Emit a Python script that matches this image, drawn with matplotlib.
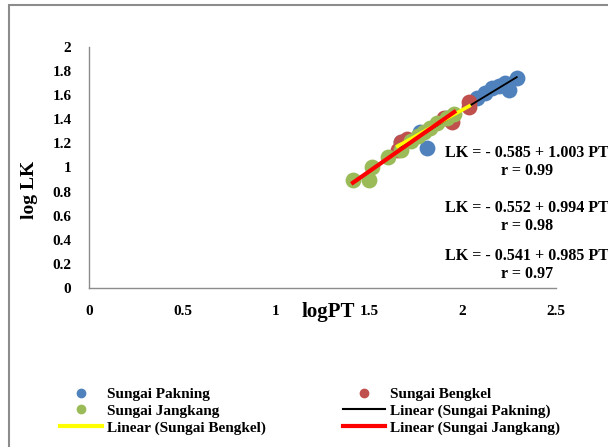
import numpy as np
import matplotlib
matplotlib.use("Agg")
import matplotlib.pyplot as plt
from matplotlib.lines import Line2D
from matplotlib.patches import Rectangle

plt.rcParams['font.family'] = ['Liberation Serif', 'DejaVu Serif']
plt.rcParams['font.weight'] = 'bold'

# data (log PT, log LK)
pak_x = [1.668, 1.769, 1.811, 1.918, 2.077, 2.120, 2.157, 2.194, 2.226, 2.247, 2.290]
pak_y = [1.212, 1.295, 1.162, 1.411, 1.577, 1.618, 1.660, 1.676, 1.701, 1.643, 1.743]

ben_x = [1.652, 1.668, 1.700, 1.902, 1.944, 2.035, 2.035]
ben_y = [1.145, 1.212, 1.240, 1.411, 1.378, 1.502, 1.544]

jan_x = [1.412, 1.497, 1.513, 1.598, 1.668, 1.721, 1.758, 1.795, 1.827, 1.864, 1.918, 1.955]
jan_y = [0.896, 0.896, 1.004, 1.087, 1.145, 1.220, 1.261, 1.295, 1.328, 1.369, 1.411, 1.444]

x_ticks = [0, 0.5, 1, 1.5, 2, 2.5]
x_tick_labels = ['0', '0.5', '1', '1.5', '2', '2.5']
y_ticks = [0, 0.2, 0.4, 0.6, 0.8, 1, 1.2, 1.4, 1.6, 1.8, 2]
y_tick_labels = ['0', '0.2', '0.4', '0.6', '0.8', '1', '1.2', '1.4', '1.6', '1.8', '2']

equations = ["LK = - 0.585 + 1.003 PT\nr = 0.99",
             "LK = - 0.552 + 0.994 PT\nr = 0.98",
             "LK = - 0.541 + 0.985 PT\nr = 0.97"]

c_blue = '#4F81BD'
c_red = '#C0504D'
c_green = '#9BBB59'

fig = plt.figure(figsize=(6.08, 4.47), dpi=100)
ax = fig.add_axes([0.1472, 0.3557, 0.7672, 0.5392])

ms = 130
ax.scatter(pak_x, pak_y, s=ms, color=c_blue, zorder=2, linewidths=0)
ax.scatter(ben_x, ben_y, s=ms, color=c_red, zorder=2, linewidths=0)
ax.scatter(jan_x, jan_y, s=ms, color=c_green, zorder=2, linewidths=0)

def trend(xs, ys):
    b, a = np.polyfit(xs, ys, 1)
    xx = np.array([min(xs), max(xs)])
    return xx, a + b * xx

tx, ty = trend(pak_x, pak_y)
ax.plot(tx, ty, color='black', lw=1.3, zorder=3)
tx, ty = trend(ben_x, ben_y)
ax.plot(tx, ty, color='#FFFF00', lw=2.6, zorder=4)
tx, ty = trend(jan_x, jan_y)
ax.plot(tx, ty, color='#FF0000', lw=3.0, zorder=5)

ax.set_xlim(0, 2.5)
ax.set_ylim(0, 2)
ax.set_xticks(x_ticks)
ax.set_xticklabels(x_tick_labels)
ax.set_yticks(y_ticks)
ax.set_yticklabels(y_tick_labels)
ax.tick_params(length=0, labelsize=11, pad=12)
ax.tick_params(axis='y', pad=13)
for lab in ax.get_xticklabels() + ax.get_yticklabels():
    lab.set_fontweight('bold')
for s in ['top', 'right']:
    ax.spines[s].set_visible(False)
for s in ['left', 'bottom']:
    ax.spines[s].set_color('#8c8c8c')
    ax.spines[s].set_linewidth(1.0)

fig.text(30 / 608, 1 - 190 / 447, 'log LK', rotation=90, ha='center', va='center',
         fontsize=14, fontweight='bold')
fig.text(328 / 608, 1 - 312 / 447, 'logPT', ha='center', va='center',
         fontsize=15, fontweight='bold')

eq_y = [162, 217, 265]
for e, yy in zip(equations, eq_y):
    fig.text(527 / 608, 1 - yy / 447, e, ha='center', va='center', fontsize=11.5,
             fontweight='bold', linespacing=1.15)

handles = [
    Line2D([], [], ls='none', marker='o', color=c_blue, markersize=6),
    Line2D([], [], ls='none', marker='o', color=c_green, markersize=6),
    Line2D([], [], color='#FFFF00', lw=3),
    Line2D([], [], ls='none', marker='o', color=c_red, markersize=6),
    Line2D([], [], color='black', lw=1.5),
    Line2D([], [], color='#FF0000', lw=3),
]
labels = ['Sungai Pakning', 'Sungai Jangkang', 'Linear (Sungai Bengkel)',
          'Sungai Bengkel', 'Linear (Sungai Pakning)', 'Linear (Sungai Jangkang)']
fig.legend(handles, labels, ncol=2, loc='center left', bbox_to_anchor=(60 / 608, 1 - 411 / 447),
           frameon=False, prop={'weight': 'bold', 'size': 11}, handlelength=2.75,
           handletextpad=0.3, columnspacing=5.1, labelspacing=0.2, borderpad=0,
           borderaxespad=0)

fig.add_artist(Rectangle((9 / 608, -0.05), 1.2, 1 - 5 / 447 + 0.05, transform=fig.transFigure,
                         fill=False, edgecolor='#8c8c8c', lw=1.5))

fig.savefig('out.png', dpi=100)
